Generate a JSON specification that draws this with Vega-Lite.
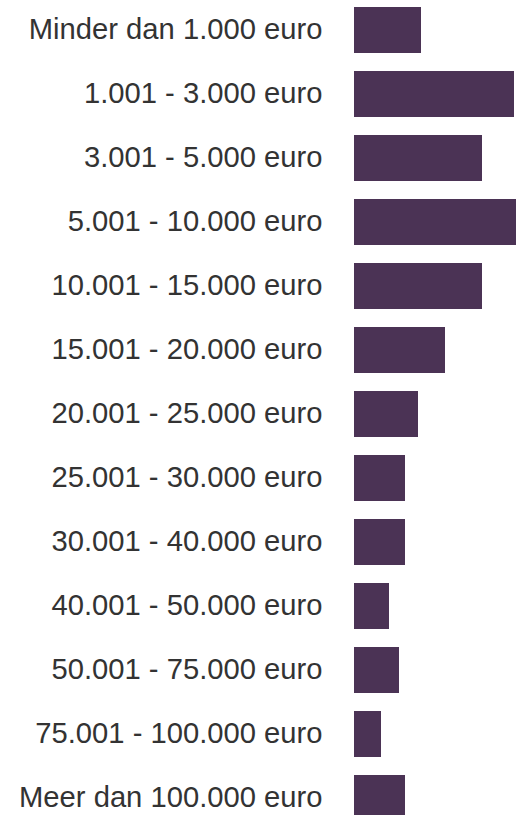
{
  "$schema": "https://vega.github.io/schema/vega-lite/v6.json",
  "autosize": "none",
  "padding": {"left": 354, "top": 0, "right": 0, "bottom": 0},
  "width": 162,
  "height": 828,
  "background": "white",
  "config": {"view": {"stroke": null}},
  "data": {
    "values": [
      {"categorie": "Minder dan 1.000 euro", "waarde": 67},
      {"categorie": "1.001 - 3.000 euro", "waarde": 160},
      {"categorie": "3.001 - 5.000 euro", "waarde": 128},
      {"categorie": "5.001 - 10.000 euro", "waarde": 162},
      {"categorie": "10.001 - 15.000 euro", "waarde": 128},
      {"categorie": "15.001 - 20.000 euro", "waarde": 91},
      {"categorie": "20.001 - 25.000 euro", "waarde": 64},
      {"categorie": "25.001 - 30.000 euro", "waarde": 51},
      {"categorie": "30.001 - 40.000 euro", "waarde": 51},
      {"categorie": "40.001 - 50.000 euro", "waarde": 35},
      {"categorie": "50.001 - 75.000 euro", "waarde": 45},
      {"categorie": "75.001 - 100.000 euro", "waarde": 27},
      {"categorie": "Meer dan 100.000 euro", "waarde": 51}
    ]
  },
  "mark": {"type": "bar", "color": "#4b3355"},
  "encoding": {
    "y": {
      "field": "categorie",
      "type": "nominal",
      "sort": null,
      "scale": {"paddingInner": 0.28125, "paddingOuter": 0.109},
      "axis": {
        "title": null,
        "domain": false,
        "ticks": false,
        "labelPadding": 32,
        "labelFont": "Liberation Sans",
        "labelFontSize": 29.2,
        "labelColor": "#333333",
        "labelLimit": 400
      }
    },
    "x": {
      "field": "waarde",
      "type": "quantitative",
      "scale": {"domain": [0, 162], "nice": false},
      "axis": null
    }
  }
}
